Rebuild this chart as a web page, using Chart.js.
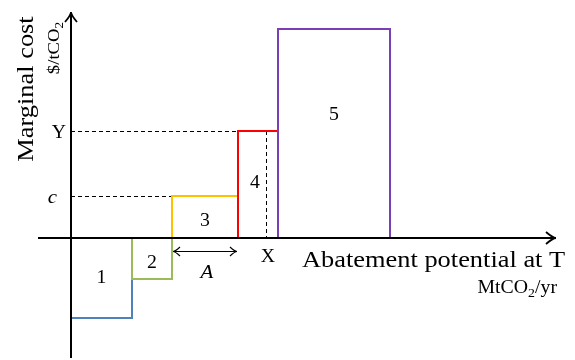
<!DOCTYPE html>
<html><head><meta charset="utf-8">
<script src="https://cdn.jsdelivr.net/npm/chart.js@4"></script>
<style>html,body{margin:0;padding:0;background:#fff;overflow:hidden}canvas{display:block}</style>
</head><body>
<canvas id="c" width="575" height="360"></canvas>
<script>
// ---- data ----
const categories = ['1', '2', '3', '4', '5'];
const widths = [3.05, 2.0, 3.3, 2.0, 5.6];        // abatement potential, MtCO2/yr
const costs = [-4.0, -2.05, 2.1, 5.35, 10.45];      // marginal cost, $/tCO2
const markXValue = 9.75;                            // "X" abatement level
const xTitle = 'Abatement potential at T';
const yTitle = 'Marginal cost';

// ---- styles ----
const colors = ['#4f81bd', '#9bbb59', '#ffc000', '#ff0000', '#7b3fb5'];
const FONT = '"Liberation Serif", "Times New Roman", serif';
const STRETCH = 1.1;

const starts = [];
let acc = 0;
widths.forEach(w => { starts.push(acc); acc += w; });

const barSets = categories.map((c, i) => ({
  label: c,
  data: [
    {x: starts[i], y: 0}, {x: starts[i], y: costs[i]},
    {x: starts[i] + widths[i], y: costs[i]}, {x: starts[i] + widths[i], y: 0},
    {x: starts[i], y: 0}
  ],
  borderColor: colors[i], borderWidth: 2, showLine: true, pointRadius: 0,
  fill: false, tension: 0, order: 5 - i, borderJoinStyle: 'miter'
}));

function txt(ctx, parts, x, y, size, align, italic) {
  ctx.save();
  ctx.translate(x, y);
  ctx.scale(STRETCH, 1);
  ctx.textBaseline = 'alphabetic';
  ctx.textAlign = 'left';
  let total = 0;
  const f = (s) => (italic ? 'italic ' : '') + s + 'px ' + FONT;
  parts.forEach(([t, sub]) => { ctx.font = f(sub ? size * 0.7 : size); total += ctx.measureText(t).width; });
  let cx = align === 'center' ? -total / 2 : align === 'right' ? -total : 0;
  parts.forEach(([t, sub]) => {
    ctx.font = f(sub ? size * 0.7 : size);
    ctx.fillText(t, cx, sub ? size * 0.22 : 0);
    cx += ctx.measureText(t).width;
  });
  ctx.restore();
}
function chevron(ctx, tx, ty, dx, dy, len, spread) {
  const px = -dy, py = dx;
  ctx.beginPath();
  ctx.moveTo(tx - dx * len + px * spread, ty - dy * len + py * spread);
  ctx.quadraticCurveTo(tx - dx * len * 0.3, ty - dy * len * 0.3, tx, ty);
  ctx.quadraticCurveTo(tx - dx * len * 0.3, ty - dy * len * 0.3, tx - dx * len - px * spread, ty - dy * len - py * spread);
  ctx.stroke();
}

const dashedUnder = {
  id: 'dashedUnder',
  beforeDatasetsDraw(chart) {
    const {ctx, scales: {x, y}} = chart;
    const s = (v) => Math.round(v) + 0.5;
    const x0 = x.getPixelForValue(0);
    ctx.save();
    ctx.strokeStyle = '#000';
    ctx.lineWidth = 1;
    ctx.setLineDash([4, 3]);
    ctx.beginPath();
    const yc = s(y.getPixelForValue(costs[2]));
    ctx.moveTo(x0, yc); ctx.lineTo(x.getPixelForValue(starts[2]), yc);
    const yY = s(y.getPixelForValue(costs[3]));
    ctx.moveTo(x0, yY); ctx.lineTo(x.getPixelForValue(starts[3]), yY);
    const xm = s(x.getPixelForValue(markXValue));
    ctx.moveTo(xm, y.getPixelForValue(costs[3])); ctx.lineTo(xm, y.getPixelForValue(0));
    ctx.stroke();
    ctx.restore();
  }
};

const overlay = {
  id: 'overlay',
  afterDatasetsDraw(chart) {
    const {ctx, chartArea: a, scales: {x, y}} = chart;
    const x0 = x.getPixelForValue(0), y0 = y.getPixelForValue(0);
    ctx.save();
    ctx.fillStyle = '#000';
    ctx.strokeStyle = '#000';
    ctx.lineWidth = 2;
    ctx.beginPath();
    ctx.moveTo(a.left, y0); ctx.lineTo(a.right - 1, y0);
    ctx.moveTo(x0, a.bottom); ctx.lineTo(x0, a.top + 1);
    ctx.stroke();
    ctx.lineWidth = 1.8;
    chevron(ctx, a.right, y0, 1, 0, 10, 6);
    chevron(ctx, x0, a.top, 0, -1, 10, 6);
    // A double arrow
    const ay = Math.round(y.getPixelForValue(-0.63)) + 0.5;
    const ax1 = x.getPixelForValue(starts[2]), ax2 = x.getPixelForValue(starts[3]);
    ctx.lineWidth = 1.2;
    ctx.beginPath(); ctx.moveTo(ax1 + 1, ay); ctx.lineTo(ax2 - 1, ay); ctx.stroke();
    chevron(ctx, ax1 + 1, ay, -1, 0, 7, 4.5);
    chevron(ctx, ax2 - 1, ay, 1, 0, 7, 4.5);

    const labelY = [-1.9, -1.15, 0.95, 2.85, 6.25];
    const labelDx = [0, 0, 0, -0.15, 0];
    categories.forEach((c, i) => {
      const cx = x.getPixelForValue(starts[i] + widths[i] / 2 + labelDx[i]);
      txt(ctx, [[c]], cx, y.getPixelForValue(labelY[i]) + 6.5, 18, 'center');
    });
    txt(ctx, [['Y']], x0 - 5, y.getPixelForValue(costs[3]) + 6.5, 18, 'right');
    txt(ctx, [['c']], x0 - 14, y.getPixelForValue(costs[2]) + 7, 19, 'right', true);
    txt(ctx, [['X']], x.getPixelForValue(markXValue) + 2, y0 + 24, 18, 'center');
    txt(ctx, [['A']], (ax1 + ax2) / 2 + 2, y0 + 40, 19, 'center', true);

    txt(ctx, [[xTitle]], 302, 267, 24, 'left');
    txt(ctx, [['MtCO'], ['2', true], ['/yr']], 557, 293, 18, 'right');
    ctx.save();
    ctx.translate(33, 89); ctx.rotate(-Math.PI / 2);
    txt(ctx, [[yTitle]], 0, 0, 24, 'center');
    ctx.restore();
    ctx.save();
    ctx.translate(59, 48); ctx.rotate(-Math.PI / 2);
    txt(ctx, [['$/tCO'], ['2', true]], 0, 0, 17, 'center');
    ctx.restore();
    ctx.restore();
  }
};

new Chart(document.getElementById('c'), {
  type: 'scatter',
  data: {datasets: barSets},
  options: {
    responsive: false, animation: false, devicePixelRatio: 1,
    layout: {padding: {left: 38, right: 19, top: 12, bottom: 2}},
    scales: {
      x: {type: 'linear', min: -1.65, max: 24.25, display: false},
      y: {type: 'linear', min: -6.0, max: 11.3, display: false}
    },
    plugins: {legend: {display: false}, tooltip: {enabled: false}}
  },
  plugins: [dashedUnder, overlay]
});
</script>
</body></html>
